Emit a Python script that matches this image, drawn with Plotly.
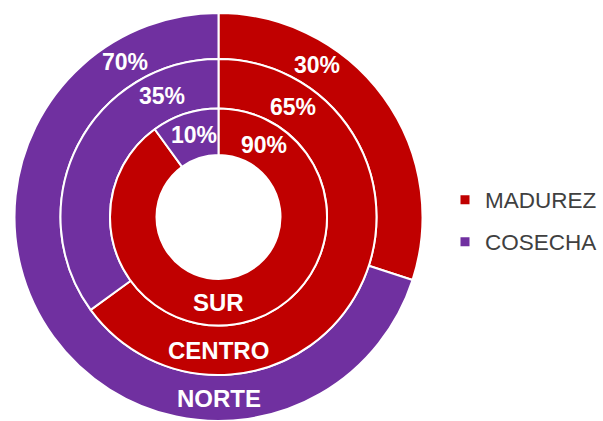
import math
import plotly.graph_objects as go

# ---- data ----
series = ["MADUREZ", "COSECHA"]
rings = ["NORTE", "CENTRO", "SUR"]          # outer -> inner
madurez = [30, 65, 90]
cosecha = [70, 35, 10]

# ---- style / layout constants ----
colors = ["#C00000", "#7030A0"]
W, H = 603, 421
CX, CY_TOP = 218.5, 217.0
CYB = H - CY_TOP
RADII = [204, 158, 108.5, 62]                 # ring boundaries outer->hole
LABEL_ANGLES = [(33, -31), (34, -25), (32, -17)]  # label angle per ring (madurez, cosecha)
FONT = "Arial, Liberation Sans, sans-serif"

fig = go.Figure()

for i, name in enumerate(rings):
    r_out, r_in = RADII[i], RADII[i + 1]
    fig.add_trace(go.Pie(
        labels=series,
        values=[madurez[i], cosecha[i]],
        name=name,
        sort=False,
        direction="clockwise",
        rotation=0,
        hole=r_in / r_out,
        marker=dict(colors=colors, line=dict(color="white", width=2)),
        textinfo="none",
        hoverinfo="label+percent+name",
        showlegend=False,
        domain=dict(x=[(CX - r_out) / W, (CX + r_out) / W],
                    y=[(CYB - r_out) / H, (CYB + r_out) / H]),
    ))

annotations = []
def polar_to_paper(r, ang_deg):
    a = math.radians(ang_deg)
    return (CX + r * math.sin(a)) / W, (CYB + r * math.cos(a)) / H

for i, name in enumerate(rings):
    r_mid = (RADII[i] + RADII[i + 1]) / 2
    vals = [madurez[i], cosecha[i]]
    for j, v in enumerate(vals):
        x, y = polar_to_paper(r_mid, LABEL_ANGLES[i][j])
        annotations.append(dict(x=x, y=y, xref="paper", yref="paper",
                                xanchor="center", yanchor="middle",
                                text=f"<b>{v}%</b>", showarrow=False,
                                font=dict(family=FONT, size=23, color="white")))
    x, y = polar_to_paper(r_mid, 180)
    annotations.append(dict(x=x, y=y, xref="paper", yref="paper",
                            xanchor="center", yanchor="middle",
                            text=f"<b>{name}</b>", showarrow=False,
                            font=dict(family=FONT, size=24, color="white")))

# legend entries (dummy traces so each legend row can be placed)
legend_names = ["legend", "legend2"]
for j, s in enumerate(series):
    fig.add_trace(go.Scatter(x=[None], y=[None], mode="markers", name=s,
                             marker=dict(symbol="square", size=9, color=colors[j]),
                             legend=legend_names[j], showlegend=True,
                             hoverinfo="skip"))

leg_common = dict(xanchor="left", yanchor="middle", bgcolor="rgba(0,0,0,0)",
                  font=dict(family=FONT, size=22.5, color="#404040"))
fig.update_layout(
    width=W, height=H,
    margin=dict(l=0, r=0, t=0, b=0),
    paper_bgcolor="white", plot_bgcolor="white",
    xaxis=dict(visible=False), yaxis=dict(visible=False),
    annotations=annotations,
    legend=dict(x=445 / W, y=1 - 200 / H, **leg_common),
    legend2=dict(x=445 / W, y=1 - 242 / H, **leg_common),
)

fig.write_html("out.html", config={"displayModeBar": False},
               post_script="document.body.style.margin='0';document.body.style.overflow='hidden';")
